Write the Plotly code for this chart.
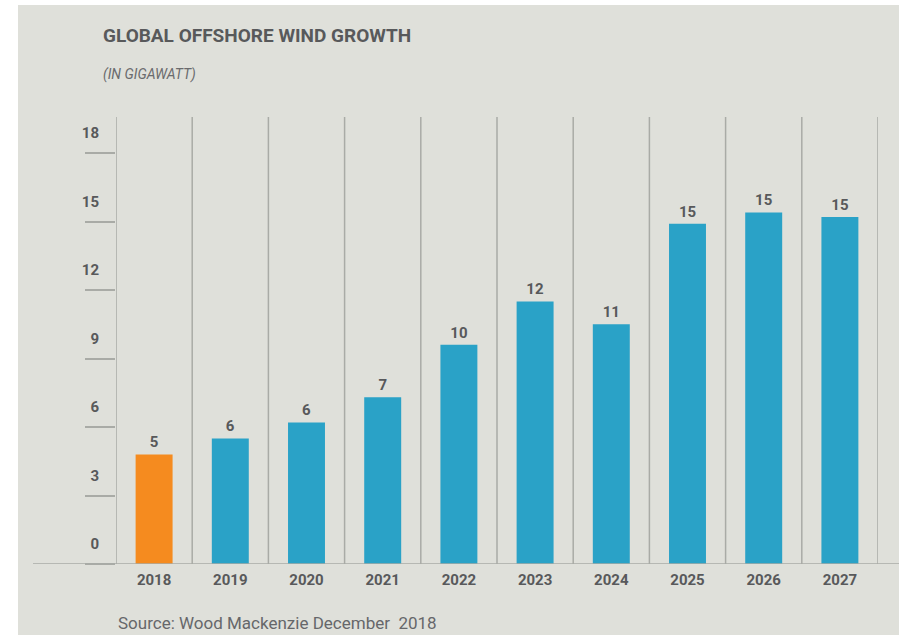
import math
import plotly.graph_objects as go

# Global offshore wind additions per year (GW)
years = ["2018", "2019", "2020", "2021", "2022", "2023", "2024", "2025", "2026", "2027"]
capacity_gw = [4.8, 5.5, 6.2, 7.3, 9.6, 11.5, 10.5, 14.9, 15.4, 15.2]
y_ticks = [0, 3, 6, 9, 12, 15, 18]

ORANGE = "#F58B1F"
BLUE = "#2AA2C7"
PANEL = "#DFE0DA"
GRID = "#A9ABA6"
TEXT = "#58595B"
FONT = "Roboto"

# Width/height of the plotting area in pixels (used to place extras in paper units)
W, H = 899, 635
L, R, T, B = 116, 21, 117, 71
PW, PH = W - L - R, H - T - B


def px_x(x):
    return (x - L) / PW


def px_y(y):
    return (H - B - y) / PH


x_pos = list(range(len(years)))
bar_colors = [ORANGE] + [BLUE] * (len(years) - 1)
labels = [str(math.floor(v + 0.5)) for v in capacity_gw]

fig = go.Figure(
    go.Bar(
        x=x_pos,
        y=capacity_gw,
        marker=dict(color=bar_colors, line=dict(width=0)),
        text=labels,
        textposition="outside",
        cliponaxis=False,
        textfont=dict(family=FONT, size=15, color=TEXT, weight="bold"),
        hoverinfo="skip",
    )
)

shapes = [
    # light panel behind the whole chart
    dict(type="rect", xref="paper", yref="paper",
         x0=px_x(18), x1=px_x(W + 5), y0=px_y(H + 5), y1=px_y(5),
         fillcolor=PANEL, line=dict(width=0), layer="below"),
    # baseline
    dict(type="line", xref="paper", yref="y",
         x0=px_x(33), x1=px_x(W + 2), y0=0, y1=0,
         line=dict(color=GRID, width=1.5), layer="above"),
]
# vertical separators between the year columns
for i in range(len(years) + 1):
    shapes.append(dict(type="line", xref="x", yref="paper",
                       x0=i - 0.5, x1=i - 0.5, y0=0, y1=1,
                       line=dict(color=GRID, width=1.5), layer="below"))

annotations = [
    dict(text="GLOBAL OFFSHORE WIND GROWTH", xref="paper", yref="paper",
         x=px_x(101), y=px_y(36), xanchor="left", yanchor="middle", showarrow=False,
         font=dict(family=FONT, size=19, color=TEXT, weight="bold")),
    dict(text="<i>(IN GIGAWATT)</i>", xref="paper", yref="paper",
         x=px_x(101), y=px_y(74), xanchor="left", yanchor="middle", showarrow=False,
         font=dict(family=FONT, size=14, color="#6A6B6D")),
    dict(text="Source: Wood Mackenzie December&nbsp; 2018", xref="paper", yref="paper",
         x=px_x(116), y=px_y(623), xanchor="left", yanchor="middle", showarrow=False,
         font=dict(family=FONT, size=17, color="#66676A")),
]

fig.update_layout(
    width=W, height=H,
    margin=dict(l=L, r=R, t=T, b=B, pad=0),
    paper_bgcolor="white",
    plot_bgcolor="rgba(0,0,0,0)",
    bargap=0.515,
    showlegend=False,
    shapes=shapes,
    annotations=annotations,
    xaxis=dict(
        range=[-0.5, len(years) - 0.5],
        tickvals=x_pos, ticktext=years,
        showgrid=False, zeroline=False, showline=False, ticks="",
        ticklabelstandoff=5,
        tickfont=dict(family=FONT, size=15, color=TEXT, weight="bold"),
        fixedrange=True,
    ),
    yaxis=dict(
        range=[0, 19.58],
        tickvals=y_ticks,
        showgrid=False, zeroline=False, showline=False,
        ticks="outside", ticklen=30, tickcolor=GRID, tickwidth=1.5,
        ticklabelshift=-20, ticklabelstandoff=-17,
        tickfont=dict(family=FONT, size=15, color=TEXT, weight="bold"),
        fixedrange=True,
    ),
)

fig.write_html("out.html")
